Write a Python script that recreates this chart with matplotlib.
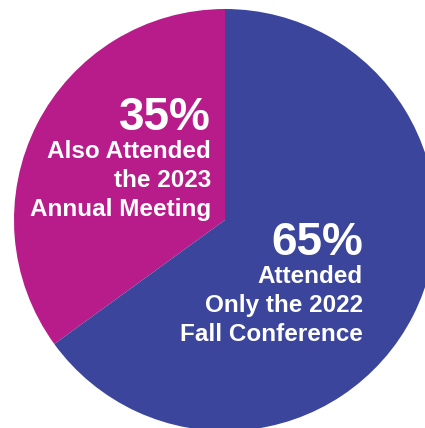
import matplotlib
matplotlib.use('Agg')
import matplotlib.pyplot as plt

# Data
shares = [35, 65]
pct_labels = ['35%', '65%']
desc_lines = [
    ['Also Attended', 'the 2023', 'Annual Meeting'],
    ['Attended', 'Only the 2022', 'Fall Conference'],
]
colors = ['#B71C8A', '#3A459B']

W, H = 425, 428
fig = plt.figure(figsize=(W / 100, H / 100), dpi=100)
ax = fig.add_axes([0, 0, 1, 1])

# pie in pixel-like coordinates (y measured from the bottom)
cx, cy, r = 225, H - 220, 211
ax.pie(shares, colors=colors, startangle=90, center=(cx, cy), radius=r,
       wedgeprops=dict(linewidth=0))
ax.set_xlim(0, W)
ax.set_ylim(0, H)
ax.set_aspect('equal')
ax.axis('off')

fam = ['Liberation Sans', 'DejaVu Sans']
# right edge x and baselines (px from top) for each block
text_x = [211, 363]
pct_base = [130, 255]
line_base = [[158, 187, 216], [283, 312, 341]]

for i in range(len(shares)):
    ax.text(text_x[i], H - pct_base[i], pct_labels[i], ha='right', va='baseline',
            color='white', fontsize=33, fontweight='bold', family=fam)
    for line, b in zip(desc_lines[i], line_base[i]):
        ax.text(text_x[i], H - b, line, ha='right', va='baseline',
                color='white', fontsize=17.5, fontweight='bold', family=fam)

fig.savefig('out.png', dpi=100, facecolor='white')
